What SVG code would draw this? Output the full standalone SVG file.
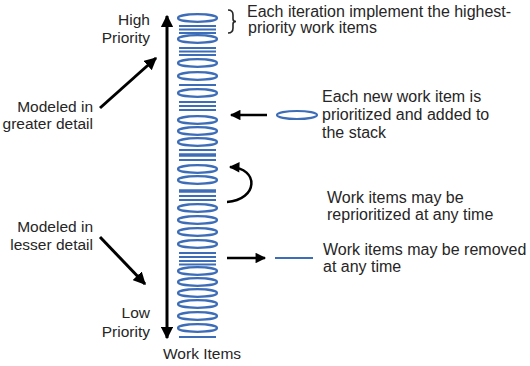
<svg xmlns="http://www.w3.org/2000/svg" width="530" height="366" viewBox="0 0 530 366">
<style>
text{font-family:"Liberation Sans",Arial,sans-serif;font-size:16px;fill:#262626}
.l{font-size:15.5px;text-anchor:end}
.e{fill:#fff;stroke:#3e6db8;stroke-width:2.2}
.s{stroke:#3e6db8;stroke-width:2.2}
.t{stroke:#3e6db8;stroke-width:3.6}
.a{stroke:#000;stroke-width:3;fill:none}
.b{stroke:#000;stroke-width:2.5;fill:none}
</style>
<defs>
<marker id="h" viewBox="0 0 10 10" refX="9" refY="5" markerWidth="4.2" markerHeight="4.2" orient="auto" markerUnits="strokeWidth"><path d="M0,0L10,5L0,10z" fill="#000"/></marker>
<marker id="hb" viewBox="0 0 10 10" refX="9" refY="5" markerWidth="5.5" markerHeight="4.2" orient="auto" markerUnits="strokeWidth"><path d="M0,0L10,5L0,10z" fill="#000"/></marker>
</defs>
<g id="stack">
<ellipse class="e" cx="197.5" cy="18" rx="19.5" ry="3.8"/>
<line class="s" x1="179" y1="26" x2="216" y2="26"/><line class="s" x1="179" y1="29.5" x2="216" y2="29.5"/><line class="s" x1="179" y1="33" x2="216" y2="33"/>
<ellipse class="e" cx="197.5" cy="39" rx="19.5" ry="3.8"/>
<line class="s" x1="179" y1="48" x2="216" y2="48"/><line class="s" x1="179" y1="51.5" x2="216" y2="51.5"/><line class="s" x1="179" y1="55" x2="216" y2="55"/>
<ellipse class="e" cx="197.5" cy="63" rx="19.5" ry="3.8"/>
<ellipse class="e" cx="197.5" cy="76" rx="19.5" ry="3.8"/>
<line class="s" x1="179" y1="85" x2="216" y2="85"/>
<ellipse class="e" cx="197.5" cy="93" rx="19.5" ry="3.8"/>
<line class="s" x1="179" y1="102" x2="216" y2="102"/><line class="s" x1="179" y1="106" x2="216" y2="106"/><line class="s" x1="179" y1="110" x2="216" y2="110"/>
<ellipse class="e" cx="197.5" cy="120" rx="19.5" ry="3.8"/>
<ellipse class="e" cx="197.5" cy="131" rx="19.5" ry="3.8"/>
<ellipse class="e" cx="197.5" cy="142" rx="19.5" ry="3.8"/>
<line class="s" x1="179" y1="150" x2="216" y2="150"/><line class="t" x1="179" y1="155" x2="216" y2="155"/><line class="s" x1="179" y1="160" x2="216" y2="160"/>
<ellipse class="e" cx="197.5" cy="169" rx="19.5" ry="3.8"/>
<ellipse class="e" cx="197.5" cy="180" rx="19.5" ry="3.8"/>
<line class="t" x1="179" y1="191" x2="216" y2="191"/><line class="s" x1="179" y1="196" x2="216" y2="196"/><line class="s" x1="179" y1="200" x2="216" y2="200"/>
<ellipse class="e" cx="197.5" cy="208" rx="19.5" ry="3.8"/>
<ellipse class="e" cx="197.5" cy="220" rx="19.5" ry="3.8"/>
<ellipse class="e" cx="197.5" cy="232" rx="19.5" ry="3.8"/>
<ellipse class="e" cx="197.5" cy="244" rx="19.5" ry="3.8"/>
<line class="s" x1="179" y1="253" x2="216" y2="253"/><line class="s" x1="179" y1="257" x2="216" y2="257"/><line class="s" x1="179" y1="261" x2="216" y2="261"/><line class="s" x1="179" y1="264.5" x2="216" y2="264.5"/>
<ellipse class="e" cx="197.5" cy="271" rx="19.5" ry="3.8"/>
<ellipse class="e" cx="197.5" cy="282" rx="19.5" ry="3.8"/>
<ellipse class="e" cx="197.5" cy="293" rx="19.5" ry="3.8"/>
<ellipse class="e" cx="197.5" cy="304" rx="19.5" ry="3.8"/>
<ellipse class="e" cx="197.5" cy="316" rx="19.5" ry="3.8"/>
<ellipse class="e" cx="197.5" cy="328" rx="19.5" ry="3.8"/>
<line class="s" x1="179" y1="337" x2="216" y2="337"/>
</g>
<g id="new-item"><ellipse class="e" cx="297" cy="115" rx="20" ry="4"/></g>
<g id="removed-item"><line class="s" x1="275" y1="258" x2="313" y2="258"/></g>
<g id="brace"><path d="M228,10 Q233,10 233,15 L233,19 Q233,21.5 236,21.5 Q233,21.5 233,24 L233,28 Q233,33 228,33" fill="none" stroke="#262626" stroke-width="1.6"/></g>
<g id="connectors">
<line class="a" x1="167" y1="178" x2="167" y2="16" marker-end="url(#h)"/>
<line class="a" x1="167" y1="178" x2="167" y2="338" marker-end="url(#h)"/>
<line class="a" x1="100" y1="108" x2="156" y2="58" marker-end="url(#h)"/>
<line class="a" x1="100" y1="237" x2="145" y2="284" marker-end="url(#h)"/>
<line class="b" x1="267" y1="115" x2="231" y2="115" marker-end="url(#hb)"/>
<line class="b" x1="227" y1="258" x2="265" y2="258" marker-end="url(#hb)"/>
<path class="b" d="M227,202 C258,200 260,168 230,167" marker-end="url(#hb)"/>
</g>
<g id="labels-left">
<text class="l" x="150" y="25">High</text>
<text class="l" x="150" y="43">Priority</text>
<text class="l" x="93" y="112">Modeled in</text>
<text class="l" x="93" y="129">greater detail</text>
<text class="l" x="93" y="232">Modeled in</text>
<text class="l" x="93" y="250">lesser detail</text>
<text class="l" x="150" y="318">Low</text>
<text class="l" x="150" y="337">Priority</text>
<text x="163" y="359" style="font-size:15.5px">Work Items</text>
</g>
<g id="labels-right">
<text x="247" y="17">Each iteration implement the highest-</text>
<text x="248" y="33">priority work items</text>
<text x="322" y="102">Each new work item is</text>
<text x="322" y="120">prioritized and added to</text>
<text x="322" y="138">the stack</text>
<text x="327" y="203">Work items may be</text>
<text x="327" y="220">reprioritized at any time</text>
<text x="323" y="255">Work items may be removed</text>
<text x="323" y="272">at any time</text>
</g>
</svg>
